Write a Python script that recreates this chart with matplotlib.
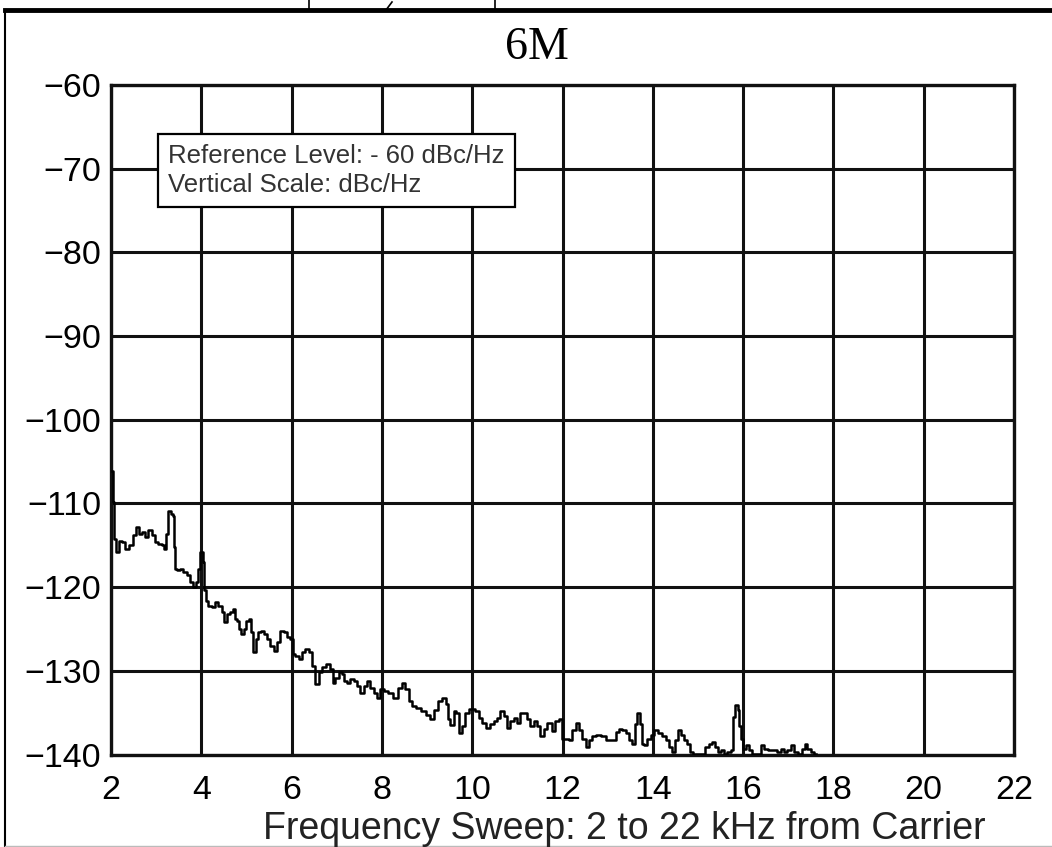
import matplotlib
matplotlib.use("Agg")
import matplotlib.pyplot as plt
from matplotlib.lines import Line2D

# ---- data ----
freq_khz = [2.016, 2.051, 2.089, 2.149, 2.200, 2.273, 2.348, 2.459, 2.532, 2.583,
            2.643, 2.716, 2.792, 2.865, 2.938, 3.013, 3.086, 3.160, 3.197, 3.235,
            3.293, 3.346, 3.381, 3.404, 3.419, 3.492, 3.568, 3.641, 3.714, 3.789,
            3.847, 3.900, 3.951, 4.011, 4.047, 4.084, 4.122, 4.195, 4.268, 4.344,
            4.417, 4.490, 4.528, 4.601, 4.676, 4.712, 4.772, 4.823, 4.860, 4.920,
            4.971, 5.009, 5.082, 5.120, 5.171, 5.231, 5.288, 5.341, 5.415, 5.488,
            5.563, 5.636, 5.710, 5.785, 5.858, 5.931, 6.007, 6.042, 6.118, 6.191,
            6.264, 6.339, 6.412, 6.486, 6.561, 6.634, 6.707, 6.818, 6.894, 6.929,
            7.004, 7.078, 7.151, 7.188, 7.262, 7.337, 7.410, 7.483, 7.559, 7.632,
            7.705, 7.780, 7.854, 7.927, 8.002, 8.075, 8.186, 8.297, 8.408, 8.481,
            8.557, 8.630, 8.703, 8.814, 8.925, 9.035, 9.111, 9.184, 9.295, 9.384,
            9.443, 9.479, 9.554, 9.627, 9.665, 9.738, 9.812, 9.887, 9.960, 10.033,
            10.109, 10.182, 10.255, 10.366, 10.441, 10.514, 10.588, 10.663, 10.736, 10.809,
            10.885, 10.958, 11.031, 11.106, 11.180, 11.253, 11.328, 11.401, 11.474, 11.550,
            11.623, 11.674, 11.749, 11.807, 11.882, 11.956, 12.016, 12.089, 12.177, 12.251,
            12.326, 12.399, 12.472, 12.548, 12.621, 12.694, 12.805, 12.916, 13.027, 13.138,
            13.213, 13.286, 13.359, 13.435, 13.508, 13.581, 13.619, 13.692, 13.745, 13.790,
            13.840, 13.914, 13.989, 14.084, 14.157, 14.246, 14.322, 14.395, 14.468, 14.528,
            14.579, 14.654, 14.727, 14.800, 14.854, 14.911, 15.133, 15.193, 15.282, 15.355,
            15.415, 15.466, 15.541, 15.614, 15.687, 15.763, 15.798, 15.858, 15.896, 15.931,
            15.962, 16.020, 16.095, 16.168, 16.242, 16.353, 16.428, 16.501, 16.612, 16.723,
            16.796, 16.871, 16.945, 17.018, 17.093, 17.166, 17.277, 17.350, 17.388, 17.461,
            17.536, 17.610]
level_dbc = [-106.1, -109.8, -114.3, -115.8, -114.5, -114.6, -115.4, -115.0, -113.8, -112.8,
             -113.7, -113.4, -114.0, -113.2, -113.8, -114.6, -114.9, -115.0, -115.4, -113.7,
             -110.9, -111.3, -111.5, -115.2, -117.8, -118.0, -117.8, -118.2, -118.6, -119.4,
             -120.0, -119.4, -117.8, -115.8, -117.0, -120.4, -121.7, -122.3, -122.4, -121.8,
             -122.2, -123.0, -124.2, -123.2, -123.0, -122.6, -123.8, -124.0, -125.0, -125.6,
             -125.0, -124.0, -123.8, -125.4, -127.8, -126.2, -125.4, -125.2, -125.6, -126.2,
             -127.0, -127.6, -126.6, -125.2, -125.4, -126.0, -126.2, -128.0, -128.2, -128.6,
             -127.8, -127.4, -127.8, -129.4, -131.6, -130.2, -129.6, -129.2, -129.8, -131.4,
             -130.8, -130.2, -130.4, -131.2, -131.4, -131.0, -131.2, -131.8, -132.6, -131.8,
             -131.2, -132.0, -132.6, -133.2, -132.2, -132.4, -132.6, -133.2, -132.0, -131.4,
             -132.2, -133.6, -134.2, -134.4, -134.8, -135.3, -135.7, -134.7, -133.6, -133.2,
             -134.0, -135.7, -136.5, -134.8, -135.0, -137.4, -136.6, -135.0, -134.6, -134.6,
             -134.8, -135.6, -136.2, -136.8, -136.4, -136.0, -135.6, -134.8, -135.4, -136.8,
             -136.0, -135.6, -136.2, -135.0, -135.0, -135.8, -136.6, -136.0, -136.6, -137.8,
             -137.0, -136.2, -136.2, -137.2, -136.0, -135.8, -138.1, -138.1, -138.3, -137.1,
             -136.2, -137.1, -138.1, -139.1, -138.3, -137.8, -137.7, -137.8, -138.3, -138.3,
             -137.3, -136.9, -137.1, -137.4, -138.3, -138.7, -136.3, -135.1, -136.3, -138.7,
             -138.9, -138.1, -137.7, -137.1, -137.4, -137.8, -138.3, -139.1, -139.7, -138.3,
             -137.1, -137.7, -138.3, -138.7, -139.7, -139.9, -139.9, -139.1, -138.7, -138.5,
             -139.1, -139.7, -139.5, -139.9, -139.7, -139.5, -135.5, -134.1, -134.7, -136.6,
             -138.1, -139.3, -138.9, -139.5, -139.9, -139.9, -138.9, -139.3, -139.5, -139.5,
             -139.7, -139.3, -139.7, -139.5, -138.9, -139.7, -139.9, -139.3, -138.7, -139.3,
             -139.7, -139.9]

x_ticks = [2, 4, 6, 8, 10, 12, 14, 16, 18, 20, 22]
y_ticks = [-60, -70, -80, -90, -100, -110, -120, -130, -140]
title_text = "6M"
xlabel_text = "Frequency Sweep: 2 to 22 kHz from Carrier"
note_lines = ["Reference Level: - 60 dBc/Hz", "Vertical Scale: dBc/Hz"]

# ---- figure ----
W, H = 1052, 847
fig = plt.figure(figsize=(W / 100, H / 100), dpi=100)
fig.patch.set_facecolor("white")
ax = fig.add_axes([111 / W, 1 - 754.5 / H, (1014 - 111) / W, (754.5 - 85) / H])

ax.plot(freq_khz, level_dbc, color="black", lw=1.8, drawstyle="steps-mid", zorder=3)

ax.set_xlim(2, 22)
ax.set_ylim(-140, -60)
ax.set_xticks(x_ticks)
ax.set_yticks(y_ticks)
ax.grid(True, color="#111111", lw=2.2, zorder=1)
ax.set_axisbelow(True)
for s in ax.spines.values():
    s.set_linewidth(2.4)
    s.set_color("#111111")
ax.tick_params(length=0, labelsize=24.5, pad=7)
ax.tick_params(axis="x", pad=15)
for lab in ax.get_xticklabels() + ax.get_yticklabels():
    lab.set_fontfamily("Liberation Sans")

fig.text(624 / W, 1 - 829 / H, xlabel_text, fontsize=27, fontfamily="Liberation Sans",
         color="#222222", ha="center", va="center")

fig.text(537 / W, 1 - 48 / H, title_text, fontsize=33, fontfamily="Liberation Serif",
         ha="center", va="center")

ax.text(0.0631, 0.8723, "\n".join(note_lines), transform=ax.transAxes,
        fontsize=18.5, fontfamily="Liberation Sans", color="#333333",
        ha="left", va="center", linespacing=1.25,
        bbox=dict(boxstyle="square,pad=0.4", fc="white", ec="black", lw=1.6), zorder=5)

# page frame fragments
fig.add_artist(Line2D([5 / W, 1], [1 - 10 / H, 1 - 10 / H], color="black", lw=3.5))
fig.add_artist(Line2D([5 / W, 5 / W], [0, 1 - 10 / H], color="black", lw=1.5))
fig.add_artist(Line2D([309 / W, 309 / W], [1 - 10 / H, 1], color="black", lw=1.2))
fig.add_artist(Line2D([386 / W, 392 / W], [1 - 10 / H, 1 - 2 / H], color="black", lw=1.2))
fig.add_artist(Line2D([495 / W, 495 / W], [1 - 10 / H, 1], color="black", lw=1.2))
fig.add_artist(Line2D([5 / W, 1], [1 / H, 1 / H], color="#bbbbbb", lw=1.0))

fig.savefig("out.png", dpi=100, facecolor="white")
